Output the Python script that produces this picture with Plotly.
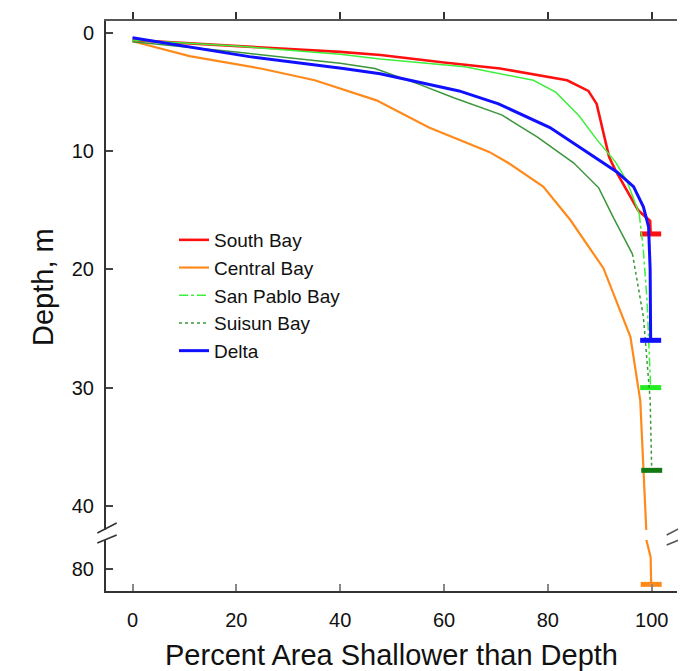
import plotly.graph_objects as go

# ---------------- data ----------------
south_x = [0, 10, 20, 40, 47.8, 60, 70.8, 83.7, 87.8, 89.4, 91.8, 93.0, 97.4, 99.7, 99.8]
south_y = [0.6, 0.85, 1.05, 1.6, 1.86, 2.5, 3.0, 4.0, 4.9, 6.0, 10.5, 11.6, 15.0, 15.9, 17.0]

central_x = [0, 11, 24.7, 35.1, 47, 57.1, 68.7, 72.4, 79.1, 84.3, 90.7, 95.9, 97.8, 98.7, 99.0, 99.0, 99.8, 99.9]
central_y = [0.7, 1.95, 3.0, 4.0, 5.7, 8.0, 10.06, 11.0, 13.0, 15.8, 19.9, 25.7, 31.1, 39.6, 42.5, 77.6, 79.0, 81.3]

sanpablo_x = [0, 20, 40, 47.7, 64, 77.2, 81.5, 86, 89.4, 93, 95.2, 96.5, 97.6, 98.4, 99.1, 99.7, 99.8]
sanpablo_y = [0.6, 1.1, 1.8, 2.2, 2.85, 4.0, 5.0, 7.0, 9.0, 10.9, 12.5, 14.0, 15.3, 18.4, 22.6, 28.3, 30.0]

suisun_x = [0, 10, 20, 30, 40, 46.7, 55, 62, 71.2, 78, 85, 89.8, 92.6, 96.3, 98.4, 99.7, 100]
suisun_y = [0.75, 1.15, 1.6, 2.1, 2.55, 3.0, 4.3, 5.5, 6.95, 8.8, 11.0, 13.1, 15.6, 18.7, 24.0, 31.0, 37.0]

delta_x = [0, 10, 22.5, 40.6, 47.7, 62.9, 70.5, 80.4, 88.8, 93.3, 96.5, 98.4, 99.4, 99.7, 99.8]
delta_y = [0.4, 1.1, 2.0, 3.0, 3.45, 4.9, 6.0, 8.0, 10.4, 11.75, 13.0, 14.7, 16.4, 20.0, 26.0]

x_ticks = [0, 20, 40, 60, 80, 100]
y_ticks_upper = [0, 10, 20, 30, 40]
y_ticks_lower = [80]

# ---------------- styles ----------------
series = [
    dict(name="South Bay", x=south_x, y=south_y, color="#ff1010", width=2.6, dash="solid", split=None, endcol="#ff1010"),
    dict(name="Central Bay", x=central_x, y=central_y, color="#ff8a1c", width=2.2, dash="solid", split=None, endcol="#ff8a1c"),
    dict(name="San Pablo Bay", x=sanpablo_x, y=sanpablo_y, color="#3cf03c", width=1.5, dash="dashdot", split=15.3, endcol="#22ee22"),
    dict(name="Suisun Bay", x=suisun_x, y=suisun_y, color="#3a963a", width=1.5, dash="dot", split=18.7, endcol="#137a13"),
    dict(name="Delta", x=delta_x, y=delta_y, color="#1010ff", width=3.0, dash="solid", split=None, endcol="#1010ff"),
]

FONT = "Liberation Sans, Arial, Helvetica, sans-serif"
OFF = 8                      # page body margin offset of the figure div
W, H = 686 - OFF, 671 - OFF
# plot area in page pixels: left 106, right 677, top 21, bottom 591
ML = 106 - OFF
MT = 21 - OFF
MR = W - (677 - OFF)
MB = H - (591 - OFF)
PW, PH = W - ML - MR, H - MT - MB

def px_x(p):
    return (p - OFF - ML) / PW

def px_y(p):
    return (H - MB - (p - OFF)) / PH

fig = go.Figure()

for i, s in enumerate(series):
    for xa, ya in (("x2", "y"), ("x", "y2")):
        if s["split"] is None:
            fig.add_trace(go.Scatter(x=s["x"], y=s["y"], mode="lines", xaxis=xa, yaxis=ya,
                                     line=dict(color=s["color"], width=s["width"]),
                                     name=s["name"], showlegend=(xa == "x2"), legendrank=i + 1))
        else:
            xs = [a for a, b in zip(s["x"], s["y"]) if b <= s["split"]]
            ys = [b for b in s["y"] if b <= s["split"]]
            xd = [a for a, b in zip(s["x"], s["y"]) if b >= s["split"]]
            yd = [b for b in s["y"] if b >= s["split"]]
            fig.add_trace(go.Scatter(x=xs, y=ys, mode="lines", xaxis=xa, yaxis=ya,
                                     line=dict(color=s["color"], width=s["width"]),
                                     name=s["name"], showlegend=False))
            fig.add_trace(go.Scatter(x=xd, y=yd, mode="lines", xaxis=xa, yaxis=ya,
                                     line=dict(color=s["color"], width=s["width"], dash=s["dash"]),
                                     name=s["name"], showlegend=(xa == "x2"), legendrank=i + 1))
    # end-of-series horizontal tick
    for xa, ya in (("x2", "y"), ("x", "y2")):
        fig.add_trace(go.Scatter(x=[s["x"][-1]], y=[s["y"][-1]], mode="markers", xaxis=xa, yaxis=ya,
                                 marker=dict(symbol="line-ew", size=15,
                                             line=dict(color=s["endcol"], width=5)),
                                 showlegend=False, hoverinfo="skip", cliponaxis=True))

x_lo = -(132.5 - 106) / 5.192
x_hi = x_lo + PW / 5.192

upper_bottom_px = 530
lower_top_px = 540
scale = 11.82
y0_px = 33
up_range = [(upper_bottom_px - y0_px) / scale, -(y0_px - 21) / scale]
lo_range = [80 + (591 - 569) / scale, 80 - (569 - lower_top_px) / scale]

tickfont = dict(family=FONT, size=20, color="#111")
common = dict(showgrid=False, zeroline=False, automargin=False)

fig.update_layout(
    width=W, height=H,
    margin=dict(l=ML, r=MR, t=MT, b=MB, autoexpand=False),
    paper_bgcolor="white", plot_bgcolor="white",
    showlegend=True,
    legend=dict(x=px_x(174), y=px_y(221), xanchor="left", yanchor="top",
                font=dict(family=FONT, size=19, color="#111"),
                bgcolor="rgba(0,0,0,0)", borderwidth=0, traceorder="normal"),
    xaxis=dict(anchor="y2", domain=[0, 1], range=[x_lo, x_hi], tickvals=x_ticks,
               ticks="inside", ticklen=7, tickwidth=1.5, tickcolor="#888",
               showline=True, linecolor="#333", linewidth=2,
               tickfont=tickfont, ticklabelstandoff=10, **common),
    xaxis2=dict(anchor="y", domain=[0, 1], range=[x_lo, x_hi], tickvals=x_ticks, side="top",
                ticks="outside", ticklen=7, tickwidth=1.5, tickcolor="#333",
                showticklabels=False, showline=True, linecolor="#555", linewidth=2, **common),
    yaxis=dict(anchor="x2", domain=[px_y(upper_bottom_px), 1], range=up_range,
               tickvals=y_ticks_upper, ticks="inside", ticklen=7, tickwidth=1.5, tickcolor="#444",
               showline=True, linecolor="#333", linewidth=2,
               tickfont=tickfont, ticklabelstandoff=6, **common),
    yaxis2=dict(anchor="x", domain=[0, px_y(lower_top_px)], range=lo_range,
                tickvals=y_ticks_lower, ticks="inside", ticklen=7, tickwidth=1.5, tickcolor="#444",
                showline=True, linecolor="#333", linewidth=2,
                tickfont=tickfont, ticklabelstandoff=6, **common),
    yaxis3=dict(anchor="x2", overlaying="y", side="right", range=up_range,
                tickvals=y_ticks_upper, ticks="outside", ticklen=8, tickwidth=1.5, tickcolor="#999",
                showticklabels=False, showline=True, linecolor="#9a9a9a", linewidth=2.5, **common),
    yaxis4=dict(anchor="x", overlaying="y2", side="right", range=lo_range,
                tickvals=y_ticks_lower, ticks="outside", ticklen=8, tickwidth=1.5, tickcolor="#999",
                showticklabels=False, showline=True, linecolor="#9a9a9a", linewidth=2.5, **common),
)

# axis-break slashes
for (xa, ya, xb, yb, col) in [
    (97.3, 533, 116.7, 523, "#333"), (97.3, 543, 116.7, 535, "#333"),
    (666.7, 535, 685, 525.5, "#555"), (666.7, 545, 685, 537.5, "#555"),
]:
    fig.add_shape(type="line", xref="paper", yref="paper",
                  x0=px_x(xa), y0=px_y(ya), x1=px_x(xb), y1=px_y(yb),
                  line=dict(color=col, width=1.6))

# axis titles
fig.add_annotation(text="Depth, m", xref="paper", yref="paper",
                   x=px_x(25), y=px_y(287), textangle=-90, showarrow=False,
                   font=dict(family=FONT, size=29, color="#111"))
fig.add_annotation(text="Percent Area Shallower than Depth", xref="paper", yref="paper",
                   x=px_x(391), y=px_y(655), showarrow=False, yanchor="middle",
                   font=dict(family=FONT, size=29, color="#111"))

fig.write_html("out.html")
